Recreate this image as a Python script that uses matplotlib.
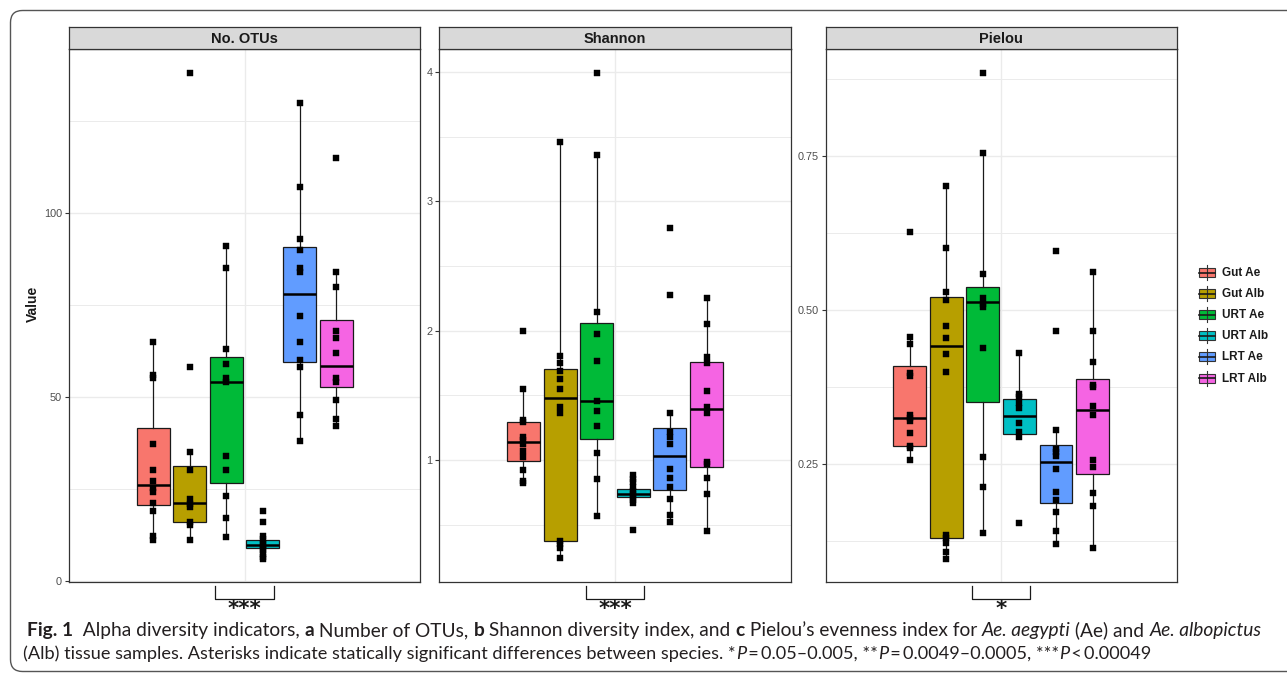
import matplotlib
matplotlib.use("Agg")
import matplotlib.pyplot as plt
import numpy as np
from matplotlib.patches import Rectangle, FancyBboxPatch
from matplotlib import transforms
from matplotlib.font_manager import FontProperties

# ---------------- data ----------------
groups = ["Gut Ae", "Gut Alb", "URT Ae", "URT Alb", "LRT Ae", "LRT Alb"]
colors = ["#F8766D", "#B79F00", "#00BA38", "#00BFC4", "#619CFF", "#F564E3"]

# No. OTUs
otu_points = [
    [64.9, 55.9, 55.2, 37.1, 30.0, 27.1, 25.1, 24.0, 21.2, 19.0, 12.1, 11.0],
    [137.9, 58.0, 35.1, 30.0, 22.1, 21.0, 20.1, 16.0, 15.1, 11.1],
    [91.0, 85.0, 63.0, 58.9, 55.0, 53.9, 34.0, 30.0, 23.0, 17.0, 12.0],
    [19.0, 16.0, 12.3, 11.3, 10.4, 9.6, 9.0, 8.3, 7.4, 6.6, 5.8],
    [129.9, 106.9, 92.9, 89.9, 84.9, 84.0, 71.9, 65.0, 60.0, 58.0, 45.0, 38.0],
    [114.9, 84.0, 79.9, 67.9, 66.0, 62.0, 55.0, 54.1, 49.1, 43.9, 42.0],
]
otu_q1 = [20.6, 16.0, 26.5, 8.8, 59.5, 52.7]
otu_med = [26.1, 21.1, 54.1, 9.7, 77.9, 58.4]
otu_q3 = [41.6, 31.3, 60.9, 11.2, 90.8, 70.8]
otu_wlo = [11.0, 11.1, 12.0, 5.8, 38.0, 42.0]
otu_whi = [64.9, 35.1, 91.0, 12.4, 129.9, 84.0]

# Shannon
sh_points = [
    [1.995, 1.551, 1.31, 1.296, 1.18, 1.155, 1.124, 1.072, 1.02, 0.923, 0.838, 0.82],
    [3.459, 1.807, 1.748, 1.688, 1.629, 1.551, 1.412, 1.366, 0.376, 0.348, 0.322, 0.24],
    [3.99, 3.359, 2.147, 1.974, 1.766, 1.459, 1.379, 1.26, 1.054, 0.853, 0.569],
    [0.884, 0.853, 0.827, 0.793, 0.763, 0.737, 0.711, 0.69, 0.665, 0.459],
    [2.792, 2.276, 1.361, 1.219, 1.18, 1.124, 0.933, 0.863, 0.793, 0.698, 0.574, 0.518],
    [2.25, 2.049, 1.799, 1.748, 1.536, 1.412, 1.366, 0.987, 0.969, 0.863, 0.737, 0.451],
]
sh_q1 = [0.992, 0.371, 1.16, 0.711, 0.768, 0.948]
sh_med = [1.139, 1.479, 1.459, 0.737, 1.031, 1.392]
sh_q3 = [1.296, 1.704, 2.06, 0.776, 1.25, 1.76]
sh_wlo = [0.82, 0.24, 0.569, 0.665, 0.518, 0.451]
sh_whi = [1.551, 3.459, 3.359, 0.884, 1.361, 2.25]

# Pielou
pi_points = [
    [0.627, 0.456, 0.445, 0.399, 0.394, 0.33, 0.325, 0.321, 0.301, 0.28, 0.276, 0.257],
    [0.702, 0.602, 0.530, 0.517, 0.475, 0.455, 0.429, 0.400, 0.135, 0.130, 0.123, 0.108, 0.097],
    [0.885, 0.756, 0.559, 0.520, 0.511, 0.506, 0.439, 0.262, 0.213, 0.139],
    [0.430, 0.364, 0.360, 0.349, 0.341, 0.317, 0.303, 0.295, 0.154],
    [0.597, 0.467, 0.305, 0.275, 0.270, 0.264, 0.242, 0.205, 0.192, 0.173, 0.141, 0.120],
    [0.563, 0.467, 0.416, 0.379, 0.375, 0.345, 0.330, 0.257, 0.246, 0.204, 0.183, 0.114],
]
pi_q1 = [0.280, 0.131, 0.352, 0.299, 0.187, 0.235]
pi_med = [0.325, 0.442, 0.514, 0.329, 0.253, 0.338]
pi_q3 = [0.410, 0.521, 0.538, 0.356, 0.281, 0.388]
pi_wlo = [0.257, 0.097, 0.139, 0.295, 0.120, 0.114]
pi_whi = [0.456, 0.702, 0.756, 0.430, 0.305, 0.563]

panel_titles = ["No. OTUs", "Shannon", "Pielou"]
yticks_major = [[0, 50, 100], [1, 2, 3, 4], [0.25, 0.50, 0.75]]
ytick_labels = [["0", "50", "100"], ["1", "2", "3", "4"], ["0.25", "0.50", "0.75"]]
yticks_minor = [[25, 75, 125], [0.5, 1.5, 2.5, 3.5], [0.125, 0.375, 0.625, 0.875]]
ylims = [(-0.4, 144.4), (0.054, 4.176), (0.0584, 0.924)]
sig_labels = ["***", "***", "*"]

# ---------------- figure ----------------
plt.rcParams["font.family"] = ["Liberation Sans", "DejaVu Sans"]
W, H = 1287, 676
fig = plt.figure(figsize=(W / 100, H / 100), dpi=100)


def px_axes(l, r, t, b, **kw):
    return fig.add_axes([l / W, 1 - b / H, (r - l) / W, (b - t) / H], **kw)


panel_lr = [(69, 420.3), (439.3, 790.7), (825.7, 1176.7)]
plot_top, plot_bot = 49.3, 582.3
strip_top = 27.3

ov = fig.add_axes([0, 0, 1, 1], zorder=10)
ov.set_xlim(0, W)
ov.set_ylim(H, 0)
ov.axis("off")
ov.patch.set_alpha(0)

datasets = [
    (otu_points, otu_q1, otu_med, otu_q3, otu_wlo, otu_whi),
    (sh_points, sh_q1, sh_med, sh_q3, sh_wlo, sh_whi),
    (pi_points, pi_q1, pi_med, pi_q3, pi_wlo, pi_whi),
]

slot = 0.75 / len(groups)
positions = [1 + (i - (len(groups) - 1) / 2) * slot for i in range(len(groups))]
spine_col = "#333333"

for k, (pts, q1, med, q3, wlo, whi) in enumerate(datasets):
    l, r = panel_lr[k]
    ax = px_axes(l, r, plot_top, plot_bot)
    stats = [dict(med=med[i], q1=q1[i], q3=q3[i], whislo=wlo[i], whishi=whi[i], fliers=[])
             for i in range(len(groups))]
    bp = ax.bxp(stats, positions=positions, widths=slot * 0.9, patch_artist=True,
                showfliers=False, showcaps=False,
                boxprops=dict(edgecolor="#1a1a1a", linewidth=0.9),
                whiskerprops=dict(color="#1a1a1a", linewidth=0.9),
                medianprops=dict(color="black", linewidth=1.8, solid_capstyle="butt"),
                zorder=2)
    for patch, c in zip(bp["boxes"], colors):
        patch.set_facecolor(c)
    for i, p in enumerate(pts):
        ax.plot(np.full(len(p), positions[i]), p, "s", color="black", ms=3.8,
                mec="black", mew=0.3, zorder=3)
    ax.set_xlim(0.4, 1.6)
    ax.set_ylim(*ylims[k])
    ax.set_xticks([1])
    ax.set_xticklabels([])
    ax.set_yticks(yticks_major[k])
    ax.set_yticklabels(ytick_labels[k])
    ax.set_yticks(yticks_minor[k], minor=True)
    ax.tick_params(axis="x", length=0)
    ax.tick_params(axis="y", which="major", length=3, width=0.8, color=spine_col,
                   labelsize=7.8, labelcolor="#4D4D4D", pad=2)
    ax.tick_params(axis="y", which="minor", length=0)
    ax.grid(True, which="major", color="#EBEBEB", linewidth=1.0, zorder=0)
    ax.grid(True, which="minor", axis="y", color="#EBEBEB", linewidth=0.7, zorder=0)
    ax.set_axisbelow(True)
    for s in ax.spines.values():
        s.set_color(spine_col)
        s.set_linewidth(0.9)

    # strip
    sx = px_axes(l, r, strip_top, plot_top)
    sx.set_facecolor("#D9D9D9")
    sx.set_xticks([])
    sx.set_yticks([])
    for s in sx.spines.values():
        s.set_color(spine_col)
        s.set_linewidth(0.9)
    sx.text(0.5, 0.47, panel_titles[k], transform=sx.transAxes, ha="center", va="center",
            fontsize=10.5, fontweight="bold", color="#1a1a1a")

    # significance bracket
    tr = transforms.blended_transform_factory(ax.transData, ov.transData)
    ov.plot([0.9, 0.9, 1.1, 1.1], [586, 598.5, 598.5, 586], color="#1a1a1a", lw=0.9,
            transform=tr, clip_on=False)
    ov.text(1.0, 599, sig_labels[k], transform=tr, ha="center", va="top",
            fontsize=15.5, fontweight="bold", family="DejaVu Sans", color="#1a1a1a")

# y label
ov.text(33, 304, "Value", rotation=90, ha="center", va="center", fontsize=10,
        fontweight="bold", color="#1a1a1a")

# legend
for i, (g, c) in enumerate(zip(groups, colors)):
    yc = 272.5 + i * 21.1
    ov.plot([1207, 1207], [yc - 7.5, yc + 7.5], color="#333333", lw=0.8)
    ov.add_patch(Rectangle((1199, yc - 4.5), 16, 9, facecolor=c, edgecolor="#333333", lw=0.8))
    ov.plot([1199, 1215], [yc, yc], color="#1a1a1a", lw=1.2)
    ov.text(1222, yc + 0.5, g, ha="left", va="center", fontsize=8.5, fontweight="bold",
            color="#1a1a1a")

# frame
ov.add_patch(FancyBboxPatch((10.5, 10.5), 1400, 661, boxstyle="round,pad=0,rounding_size=12",
                            facecolor="none", edgecolor="#555555", lw=1.0, clip_on=False))

# caption
cap_family = ["Lato", "DejaVu Sans"]


def cap_fp(kind, size):
    return FontProperties(family=cap_family, size=size,
                          weight="bold" if kind == "b" else "normal",
                          style="italic" if kind == "i" else "normal")


cap_col = "#231F20"
ts = "\u2009"
line1 = [("Fig. 1", "b"), ("  Alpha diversity indicators, ", "r"),
         ("a", "b"), (" Number of OTUs, ", "r"),
         ("b", "b"), (" Shannon diversity index, and ", "r"),
         ("c", "b"), (" Pielou\u2019s evenness index for ", "r"),
         ("Ae. aegypti", "i"), (" (Ae) and ", "r"),
         ("Ae. albopictus", "i")]
line2 = [("(Alb) tissue samples. Asterisks indicate statically significant differences between species. *", "r"),
         ("P", "i"), (ts + "=" + ts + "0.05\u20130.005, **", "r"),
         ("P", "i"), (ts + "=" + ts + "0.0049\u20130.0005, ***", "r"),
         ("P", "i"), (ts + "<" + ts + "0.00049", "r")]

renderer = fig.canvas.get_renderer()


def seg_width(s, kind, size):
    fp = cap_fp(kind, size)
    t1 = ov.text(0, 0, "|" + s + "|", fontproperties=fp)
    t2 = ov.text(0, 0, "||", fontproperties=fp)
    w = t1.get_window_extent(renderer).width - t2.get_window_extent(renderer).width
    t1.remove()
    t2.remove()
    return w


def line_width(segs, size):
    return sum(seg_width(s, kd, size) for s, kd in segs)


def draw_line(segs, x0, y, size):
    x = x0
    for s, kd in segs:
        ov.text(x, y, s, fontproperties=cap_fp(kd, size), ha="left", va="baseline", color=cap_col)
        x += seg_width(s, kd, size)


size1 = 10.0 * 1238 / line_width(line1, 10.0)
size2 = 10.0 * 1129 / line_width(line2, 10.0)
draw_line(line1, 27, 636, size1)
draw_line(line2, 23, 659, size2)

fig.savefig("out.png", dpi=100)
